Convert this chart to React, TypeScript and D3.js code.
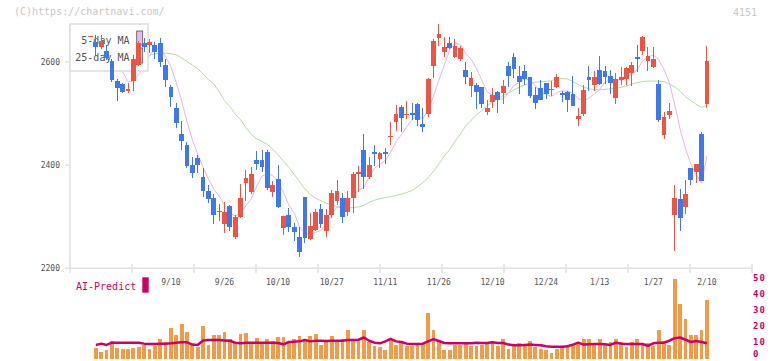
import React from 'react';
import * as d3 from 'd3';

// daily OHLC (index 0 = leftmost candle)
const opens = [2649, 2638, 2629, 2621, 2601, 2563, 2557, 2544, 2563, 2595,
  2637, 2632, 2632, 2637, 2595, 2552, 2511, 2461, 2440, 2401,
  2413, 2377, 2350, 2337, 2312, 2286, 2321, 2260, 2300, 2366,
  2347, 2410, 2410, 2426, 2348, 2374, 2279, 2304, 2281, 2261,
  2339, 2256, 2275, 2315, 2272, 2303, 2331, 2337, 2309, 2337,
  2382, 2430, 2377, 2426, 2412, 2426, 2456, 2484, 2513, 2497,
  2502, 2519, 2480, 2499, 2593, 2647, 2620, 2637, 2610, 2606,
  2585, 2554, 2556, 2552, 2503, 2523, 2542, 2539, 2593, 2610,
  2573, 2583, 2571, 2536, 2550, 2559, 2547, 2552, 2539, 2542,
  2537, 2489, 2500, 2571, 2555, 2585, 2583, 2573, 2531, 2565,
  2567, 2579, 2610, 2622, 2601, 2590, 2558, 2458, 2498, 2304,
  2334, 2318, 2395, 2386, 2461, 2519];
const highs = [2651, 2652, 2653, 2632, 2605, 2567, 2560, 2560, 2614, 2640,
  2646, 2645, 2639, 2647, 2605, 2555, 2520, 2486, 2445, 2416,
  2419, 2395, 2361, 2345, 2325, 2328, 2323, 2303, 2363, 2390,
  2396, 2428, 2430, 2430, 2369, 2400, 2302, 2317, 2288, 2280,
  2339, 2307, 2315, 2324, 2315, 2351, 2371, 2346, 2350, 2387,
  2399, 2461, 2416, 2439, 2426, 2433, 2484, 2516, 2516, 2524,
  2521, 2521, 2511, 2569, 2645, 2673, 2649, 2649, 2645, 2631,
  2600, 2581, 2559, 2552, 2526, 2550, 2544, 2565, 2600, 2618,
  2592, 2595, 2571, 2552, 2565, 2559, 2563, 2576, 2544, 2544,
  2573, 2511, 2555, 2592, 2583, 2612, 2592, 2584, 2579, 2590,
  2590, 2600, 2632, 2651, 2629, 2629, 2565, 2503, 2521, 2361,
  2353, 2371, 2395, 2402, 2464, 2631];
const lows = [2649, 2613, 2626, 2603, 2562, 2525, 2539, 2540, 2544, 2593,
  2620, 2617, 2606, 2590, 2552, 2512, 2472, 2429, 2395, 2376,
  2384, 2338, 2326, 2286, 2292, 2269, 2273, 2257, 2298, 2331,
  2345, 2391, 2387, 2351, 2338, 2317, 2265, 2271, 2253, 2222,
  2250, 2254, 2272, 2278, 2261, 2298, 2322, 2288, 2301, 2308,
  2347, 2353, 2373, 2399, 2395, 2403, 2439, 2466, 2464, 2490,
  2487, 2476, 2464, 2494, 2569, 2631, 2609, 2625, 2607, 2602,
  2557, 2532, 2508, 2511, 2498, 2511, 2502, 2519, 2552, 2569,
  2537, 2556, 2531, 2508, 2526, 2529, 2534, 2550, 2523, 2503,
  2514, 2476, 2495, 2543, 2544, 2555, 2557, 2537, 2519, 2555,
  2555, 2553, 2581, 2613, 2583, 2588, 2484, 2450, 2490, 2234,
  2273, 2306, 2362, 2366, 2369, 2510];
const closes = [2651, 2629, 2640, 2608, 2565, 2550, 2542, 2547, 2606, 2636,
  2630, 2639, 2619, 2600, 2566, 2532, 2481, 2447, 2399, 2384,
  2400, 2349, 2335, 2304, 2311, 2310, 2281, 2300, 2336, 2376,
  2382, 2403, 2397, 2355, 2362, 2318, 2301, 2281, 2271, 2231,
  2259, 2282, 2309, 2285, 2303, 2346, 2350, 2300, 2337, 2382,
  2387, 2377, 2401, 2421, 2424, 2422, 2457, 2499, 2492, 2500,
  2498, 2488, 2474, 2568, 2641, 2654, 2629, 2628, 2631, 2627,
  2570, 2569, 2542, 2519, 2511, 2536, 2526, 2554, 2573, 2586,
  2561, 2568, 2534, 2521, 2527, 2537, 2548, 2571, 2536, 2527,
  2514, 2495, 2546, 2566, 2571, 2558, 2571, 2560, 2567, 2571,
  2588, 2595, 2605, 2649, 2612, 2605, 2488, 2494, 2505, 2337,
  2298, 2344, 2371, 2402, 2369, 2602];

const ma5 = [null, null, null, null, 2619, 2598, 2581, 2562, 2562, 2576,
  2592, 2612, 2626, 2625, 2611, 2591, 2560, 2525, 2485, 2449,
  2422, 2396, 2373, 2354, 2340, 2322, 2308, 2301, 2308, 2321,
  2335, 2359, 2379, 2383, 2380, 2367, 2347, 2323, 2307, 2280,
  2269, 2265, 2270, 2273, 2288, 2305, 2319, 2317, 2327, 2343,
  2351, 2357, 2377, 2394, 2402, 2409, 2425, 2445, 2459, 2474,
  2489, 2495, 2490, 2506, 2534, 2565, 2593, 2624, 2637, 2634,
  2617, 2605, 2588, 2565, 2542, 2535, 2527, 2529, 2540, 2555,
  2560, 2568, 2564, 2554, 2542, 2537, 2533, 2541, 2544, 2544,
  2539, 2529, 2524, 2530, 2538, 2547, 2562, 2565, 2565, 2565,
  2571, 2576, 2585, 2602, 2610, 2613, 2605, 2585, 2560, 2518,
  2470, 2432, 2403, 2381, 2365, 2418];

const ma25 = [null, null, null, null, null, null, null, null, null, null,
  2612, 2613, 2616, 2617, 2617, 2616, 2614, 2608, 2601, 2594,
  2587, 2577, 2566, 2557, 2543, 2525, 2514, 2499, 2488, 2473,
  2460, 2451, 2446, 2440, 2431, 2420, 2408, 2396, 2382, 2368,
  2354, 2343, 2336, 2331, 2326, 2323, 2320, 2319, 2318, 2318,
  2319, 2322, 2328, 2332, 2335, 2337, 2339, 2341, 2344, 2347,
  2351, 2358, 2366, 2376, 2388, 2402, 2418, 2430, 2446, 2460,
  2476, 2487, 2497, 2506, 2515, 2523, 2529, 2535, 2540, 2546,
  2551, 2556, 2559, 2561, 2562, 2562, 2564, 2567, 2568, 2567,
  2562, 2556, 2552, 2548, 2546, 2546, 2547, 2548, 2549, 2551,
  2554, 2557, 2560, 2562, 2563, 2563, 2563, 2562, 2557, 2552,
  2543, 2533, 2525, 2518, 2512, 2516];

const volumes = [0, 6.7, 4.2, 5.2, 10.8, 6.7, 5.9, 5.9, 6.7, 7.3,
  8.3, 5.9, 7.7, 12.0, 10.4, 19.0, 14.5, 21.3, 16.5, 8.3,
  6.9, 20.1, 8.3, 14.5, 14.5, 16.5, 11.8, 10.4, 15.1, 15.5,
  10.4, 12.5, 9.4, 12.0, 11.0, 13.5, 13.5, 9.4, 12.0, 13.9,
  11.0, 13.9, 15.1, 8.3, 10.4, 13.9, 10.4, 12.0, 17.6, 12.0,
  12.0, 17.6, 10.4, 7.7, 7.3, 5.2, 11.3, 8.3, 9.4, 7.7,
  7.7, 8.3, 9.4, 28.3, 17.6, 10.8, 5.0, 5.0, 8.3, 8.3,
  9.0, 7.7, 7.7, 8.3, 9.0, 9.4, 7.7, 12.0, 5.6, 7.7,
  9.6, 8.3, 11.0, 6.9, 5.6, 5.2, 3.6, 5.6, 6.9, 8.3,
  8.3, 10.4, 11.8, 11.8, 9.4, 11.8, 8.3, 10.4, 11.8, 10.4,
  6.9, 10.4, 12.0, 8.3, 9.4, 7.7, 17.6, 10.8, 8.3, 49.2,
  33.7, 24.4, 14.5, 14.5, 17.6, 36.2];

const volMa = [null, 8.4, 9.2, 8.4, 9.8, 9.8, 9.8, 9.8, 9.8, 9.8,
  9.2, 9.0, 9.0, 9.2, 9.2, 9.4, 9.8, 10.0, 10.0, 8.6,
  8.4, 11.2, 11.4, 11.4, 11.4, 11.2, 11.0, 9.8, 9.4, 9.8,
  9.8, 9.8, 9.8, 9.8, 9.8, 9.6, 8.8, 10.2, 10.4, 10.6,
  11.4, 10.6, 11.0, 11.0, 10.8, 11.0, 11.0, 11.0, 11.4, 11.4,
  11.6, 13.0, 11.0, 9.8, 9.4, 10.6, 12.2, 10.6, 10.2, 9.2,
  9.0, 9.0, 9.2, 10.6, 12.0, 10.8, 9.6, 9.4, 9.4, 9.4,
  9.4, 9.4, 9.8, 9.6, 9.6, 10.0, 9.6, 9.6, 8.6, 8.2,
  8.2, 8.4, 8.6, 8.4, 8.2, 7.6, 7.3, 7.3, 7.3, 7.6,
  8.6, 9.8, 8.6, 8.8, 9.0, 9.0, 8.8, 8.4, 9.8, 9.2,
  9.0, 9.0, 9.0, 9.0, 7.8, 9.4, 9.8, 9.8, 11.0, 12.6,
  13.0, 11.6, 10.2, 10.8, 10.2, 9.4];

const dateLabels = ['9/10', '9/26', '10/10', '10/27', '11/11', '11/26', '12/10', '12/24', '1/13', '1/27', '2/10'];
const dateLabelIdx = [15, 25, 35, 45, 55, 65, 75, 85, 95, 105, 115];
const priceTicks = [2200, 2400, 2600];
const volTicks = [0, 10, 20, 30, 40, 50];

const MONO = '"DejaVu Sans Mono", monospace';
const RED = '#ef5342';
const BLUE = '#3f78ec';
const MAGENTA = '#cc0066';

export default function App() {
  const n = closes.length;
  const x = d3.scaleLinear().domain([0, n - 1]).range([90.5, 706.9]);
  const y = d3.scaleLinear().domain([2200, 2600]).range([268.3, 62]);
  const yv = d3.scaleLinear().domain([0, 50]).range([358.5, 277.7]);

  const idx = d3.range(n);
  const path = (vals, scale) =>
    d3.line<number>()
      .defined(i => vals[i] != null)
      .x(i => x(i))
      .y(i => scale(vals[i]))(idx);

  const bodyW = 4.8;
  const volW = 3.8;
  const tickX = d3.range(70, 753, 62);

  return (
    <svg width={772} height={361} style={{ position: 'absolute', left: 0, top: 0, background: '#fff' }}>
      <rect x={0} y={0} width={772} height={361} fill="#fff" />

      <text x={14} y={15} fontFamily={MONO} fontSize={10} fill="#c8c8c8">(C)https://chartnavi.com/</text>
      <text x={757} y={16} fontFamily={MONO} fontSize={10} fill="#c8c8c8" textAnchor="end">4151</text>

      {/* axes */}
      <line x1={70} x2={70} y1={24} y2={268.3} stroke="#e2e2e2" strokeWidth={1.5} />
      <line x1={70} x2={752} y1={268.3} y2={268.3} stroke="#e2e2e2" strokeWidth={1.5} />
      {tickX.map(t => (
        <line key={t} x1={t} x2={t} y1={264} y2={273} stroke="#e2e2e2" strokeWidth={1.5} />
      ))}
      {priceTicks.map(p => (
        <g key={p}>
          <line x1={65} x2={70} y1={y(p)} y2={y(p)} stroke="#e2e2e2" strokeWidth={1.5} />
          <text x={60} y={y(p)} dy="0.35em" textAnchor="end" fontFamily={MONO} fontSize={8} fill="#555">{p}</text>
        </g>
      ))}
      {dateLabels.map((d, k) => (
        <text key={d} x={x(dateLabelIdx[k])} y={285} textAnchor="middle" fontFamily={MONO} fontSize={8} fill="#555">{d}</text>
      ))}

      {/* moving averages */}
      <path d={path(ma25, y)} fill="none" stroke="#b5dca5" strokeWidth={1} />
      <path d={path(ma5, y)} fill="none" stroke="#e9b3ea" strokeWidth={1} />

      {/* legend */}
      <rect x={70} y={24} width={78} height={47} fill="#fff" stroke="#dddddd" strokeWidth={1.5} />
      <text x={129.5} y={44} textAnchor="end" fontFamily={MONO} fontSize={10} fill="#555">5-day MA</text>
      <text x={129.5} y={61} textAnchor="end" fontFamily={MONO} fontSize={10} fill="#555">25-day MA</text>
      <rect x={136.7} y={31} width={6} height={14} fill="#e9b8ec" stroke="#555" strokeWidth={0.8} />
      <rect x={136.7} y={48} width={6} height={15} fill="#c8e6b8" stroke="#555" strokeWidth={0.8} />

      {/* candles */}
      <g shapeRendering="crispEdges">
        {idx.map(i => {
          const up = closes[i] >= opens[i];
          const c = up ? RED : BLUE;
          const top = y(Math.max(opens[i], closes[i]));
          const bot = y(Math.min(opens[i], closes[i]));
          return (
            <g key={i}>
              <line x1={x(i)} x2={x(i)} y1={y(highs[i])} y2={y(lows[i])} stroke={c} strokeWidth={1} />
              <rect x={x(i) - bodyW / 2} y={top} width={bodyW} height={Math.max(1.5, bot - top)} fill={c} />
            </g>
          );
        })}
      </g>

      {/* volume */}
      <g shapeRendering="crispEdges">
        {idx.filter(i => volumes[i] > 0).map(i => (
          <rect key={i} x={x(i) - volW / 2} y={yv(volumes[i])} width={volW} height={yv(0) - yv(volumes[i])} fill="#f29b46" />
        ))}
      </g>
      <path d={path(volMa, yv)} fill="none" stroke={MAGENTA} strokeWidth={2.5} strokeLinejoin="round" />

      {volTicks.map(v => (
        <text key={v} x={753} y={Math.min(yv(v) + 3, 357)} fontFamily={MONO} fontSize={9} fontWeight="bold" fill={MAGENTA} letterSpacing={1}>{v}</text>
      ))}

      <text x={76} y={290} fontFamily={MONO} fontSize={10} fill={MAGENTA}>AI-Predict</text>
      <rect x={142.3} y={277.3} width={6.4} height={15.4} fill={MAGENTA} />
    </svg>
  );
}
